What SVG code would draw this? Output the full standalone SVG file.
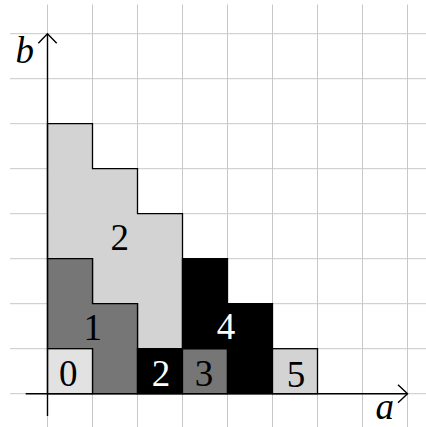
<svg xmlns="http://www.w3.org/2000/svg" width="426" height="427" viewBox="0 0 426 427">
<style>
.grid line{stroke:#c8c8c8;stroke-width:1}
.shape{stroke:#000;stroke-width:1.3;stroke-linejoin:miter}
.lt{fill:#e2e2e2}
.lg{fill:#d3d3d3}
.dg{fill:#767676}
.bk{fill:#000}
.lbl{font-family:"Liberation Serif","DejaVu Serif",serif;font-size:37px;text-anchor:middle}
.ax{stroke:#000;stroke-width:1.4;fill:none}
.it{font-style:italic}
</style>
<rect width="426" height="427" fill="#fff"/>
<g class="grid">
<line x1="47.5" y1="4.5" x2="47.5" y2="427"/>
<line x1="92.5" y1="4.5" x2="92.5" y2="427"/>
<line x1="137.5" y1="4.5" x2="137.5" y2="427"/>
<line x1="182.5" y1="4.5" x2="182.5" y2="427"/>
<line x1="227.5" y1="4.5" x2="227.5" y2="427"/>
<line x1="272.5" y1="4.5" x2="272.5" y2="427"/>
<line x1="317.5" y1="4.5" x2="317.5" y2="427"/>
<line x1="362.5" y1="4.5" x2="362.5" y2="427"/>
<line x1="407.5" y1="4.5" x2="407.5" y2="427"/>
<line x1="10" y1="33.7" x2="426" y2="33.7"/>
<line x1="10" y1="78.7" x2="426" y2="78.7"/>
<line x1="10" y1="123.7" x2="426" y2="123.7"/>
<line x1="10" y1="168.7" x2="426" y2="168.7"/>
<line x1="10" y1="213.7" x2="426" y2="213.7"/>
<line x1="10" y1="258.7" x2="426" y2="258.7"/>
<line x1="10" y1="303.7" x2="426" y2="303.7"/>
<line x1="10" y1="348.7" x2="426" y2="348.7"/>
<line x1="10" y1="393.7" x2="426" y2="393.7"/>
</g>
<g id="region2-light">
<path class="shape lg" d="M47.5,123.7H92.5V168.7H137.5V213.7H182.5V348.7H137.5V303.7H92.5V258.7H47.5Z"/>
<text class="lbl" x="119.7" y="250">2</text>
</g>
<g id="region1">
<path class="shape dg" d="M47.5,258.7H92.5V303.7H137.5V393.7H92.5V348.7H47.5Z"/>
<text class="lbl" x="92.7" y="339.7">1</text>
</g>
<g id="region0">
<rect class="shape lt" x="47.5" y="348.7" width="45" height="45"/>
<text class="lbl" x="68.3" y="386">0</text>
</g>
<g id="region2-black">
<rect class="shape bk" x="137.5" y="348.7" width="45" height="45"/>
<text class="lbl" x="161" y="385.7" fill="#fff">2</text>
</g>
<g id="region3">
<rect class="shape dg" x="182.5" y="348.7" width="45" height="45"/>
<text class="lbl" x="204" y="386">3</text>
</g>
<g id="region4">
<path class="shape bk" d="M182.5,258.7H227.5V303.7H272.5V393.7H227.5V348.7H182.5Z"/>
<text class="lbl" x="226" y="339" fill="#fff">4</text>
</g>
<g id="region5">
<rect class="shape lg" x="272.5" y="348.7" width="45" height="45"/>
<text class="lbl" x="296" y="386.5">5</text>
</g>
<g id="axes">
<line class="ax" x1="25.7" y1="393.7" x2="407.5" y2="393.7"/>
<path class="ax" d="M398,384.7L407.5,393.7L398,402.7"/>
<line class="ax" x1="47.5" y1="416" x2="47.5" y2="34"/>
<path class="ax" d="M38.3,43.3L47.5,33.8L56.7,43.3"/>
</g>
<g id="axis-labels">
<text class="lbl it" x="384.7" y="418.8">a</text>
<text class="lbl it" x="24.7" y="63.3">b</text>
</g>
</svg>
